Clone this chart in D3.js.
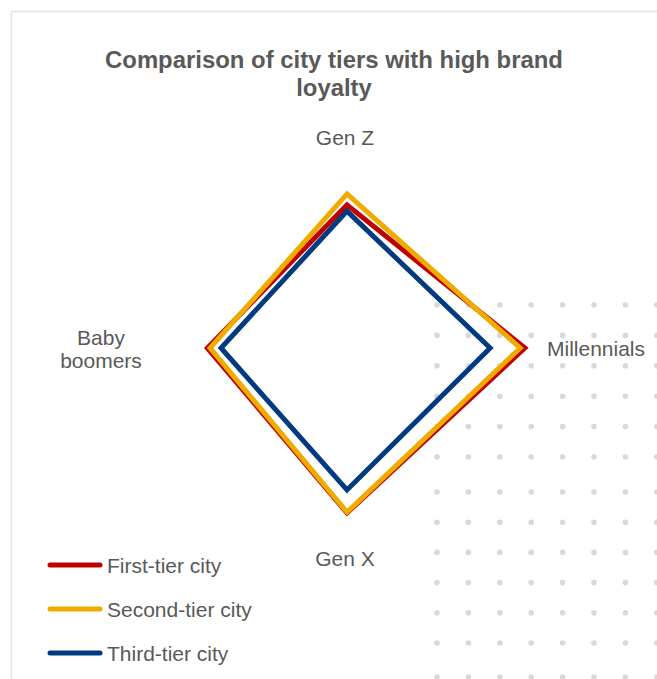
<!DOCTYPE html>
<html>
<head>
<meta charset="utf-8">
<script src="https://cdn.jsdelivr.net/npm/d3@7"></script>
<style>
  html, body { margin: 0; padding: 0; background: #ffffff; }
  svg { display: block; }
  text { font-family: "Liberation Sans", Arial, sans-serif; }
</style>
</head>
<body>
<svg id="chart" width="657" height="679"></svg>
<script>
// Radar axes, clockwise from the top
const categories = ["Gen Z", "Millennials", "Gen X", "Baby boomers"];

// Share of consumers with high brand loyalty (%), one value per axis
const seriesNames = ["First-tier city", "Second-tier city", "Third-tier city"];
const firstTier  = [36.7, 45.6, 42.3, 35.8];
const secondTier = [39.5, 44.4, 42.1, 35.1];
const thirdTier  = [35.1, 36.7, 36.4, 32.3];
const seriesColors = ["#C00000", "#F0AB00", "#003A80"];

const axisMax = 50;

const svg = d3.select("#chart");
const W = 657, H = 679;
const textColor = "#595959";

// Outer frame of the chart area
svg.append("rect")
  .attr("x", 11.5).attr("y", 11.5)
  .attr("width", W + 20).attr("height", H + 20)
  .attr("fill", "#ffffff")
  .attr("stroke", "#e4e4e4")
  .attr("stroke-width", 1.5);

// Decorative dot pattern in the lower right corner
const dotCols = d3.range(8).map(i => 437 + i * 31.4);
const dotRows = d3.range(6).map(i => 305 + i * 30.4)
  .concat(d3.range(6).map(i => 492 + i * 30.2))
  .concat([677]);
const dots = svg.append("g").attr("fill", "#d9d9d9");
dotRows.forEach(y => dotCols.forEach(x => {
  dots.append("circle").attr("cx", x).attr("cy", y).attr("r", 2.8);
}));

// Title
const title = svg.append("text")
  .attr("text-anchor", "middle")
  .attr("fill", textColor)
  .attr("font-weight", "bold")
  .attr("font-size", 23.9);
title.append("tspan").attr("x", 334).attr("y", 68).text("Comparison of city tiers with high brand");
title.append("tspan").attr("x", 334).attr("y", 96).text("loyalty");

// Radar geometry
const cx = 347, cy = 348, R = 195;
const r = d3.scaleLinear().domain([0, axisMax]).range([0, R]);
const angle = d3.scalePoint().domain(categories).range([0, 2 * Math.PI * (categories.length - 1) / categories.length]);

const line = d3.lineRadial()
  .angle((d, i) => angle(categories[i]))
  .radius(d => r(d))
  .curve(d3.curveLinearClosed);

const plot = svg.append("g").attr("transform", `translate(${cx},${cy})`);
const allSeries = [firstTier, secondTier, thirdTier];
plot.selectAll("path.series")
  .data(allSeries)
  .join("path")
  .attr("class", "series")
  .attr("d", line)
  .attr("fill", "none")
  .attr("stroke", (d, i) => seriesColors[i])
  .attr("stroke-width", 5)
  .attr("stroke-linejoin", "miter")
  .attr("stroke-miterlimit", 10);

// Category labels
const labelSize = 21;
const lab = svg.append("g").attr("fill", textColor).attr("font-size", labelSize);
lab.append("text").attr("x", 345).attr("y", 145).attr("text-anchor", "middle").text(categories[0]);
lab.append("text").attr("x", 547).attr("y", 355.5).attr("text-anchor", "start").text(categories[1]);
lab.append("text").attr("x", 345).attr("y", 565.5).attr("text-anchor", "middle").text(categories[2]);
const bb = lab.append("text").attr("text-anchor", "middle");
const bbWords = categories[3].split(" ");
bb.append("tspan").attr("x", 101).attr("y", 344.5).text(bbWords[0]);
bb.append("tspan").attr("x", 101).attr("y", 367.5).text(bbWords[1]);

// Legend
const legend = svg.append("g");
seriesNames.forEach((name, i) => {
  const y = 565 + i * 44;
  legend.append("line")
    .attr("x1", 50).attr("x2", 100).attr("y1", y).attr("y2", y)
    .attr("stroke", seriesColors[i])
    .attr("stroke-width", 5)
    .attr("stroke-linecap", "round");
  legend.append("text")
    .attr("x", 107).attr("y", y + 7.5)
    .attr("fill", textColor)
    .attr("font-size", labelSize)
    .text(name);
});
</script>
</body>
</html>
